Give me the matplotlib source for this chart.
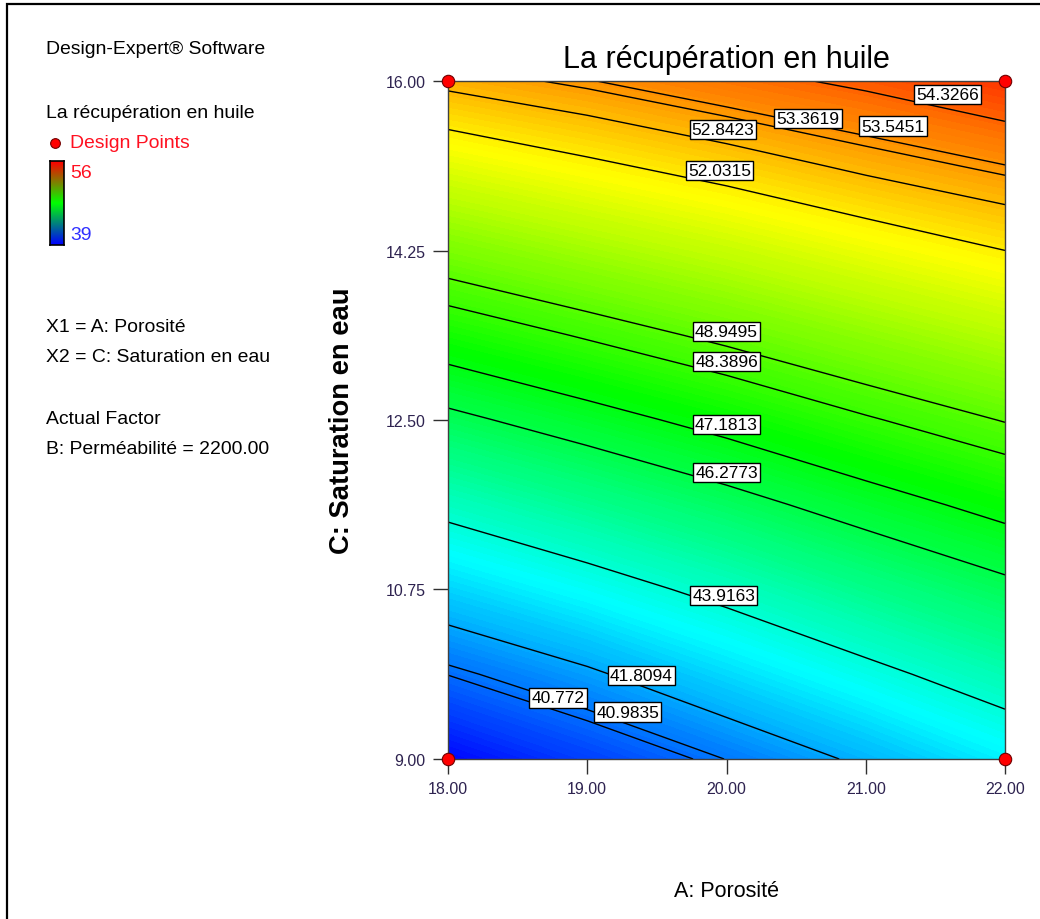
import numpy as np
import matplotlib
matplotlib.use('Agg')
import matplotlib.pyplot as plt
from matplotlib import font_manager
from matplotlib.colors import LinearSegmentedColormap
from matplotlib.patches import Rectangle

# Factor levels (A: porosite, C: saturation en eau)
POROSITE = [18.0, 19.0, 20.0, 21.0, 22.0]
SATURATION = [9.0, 9.875, 10.75, 11.625, 12.5, 13.375, 14.25, 15.125, 16.0]

# Recuperation en huile, one row per saturation level (bottom -> top)
RECUP = [
    [39.10, 40.05, 41.00, 42.00, 43.04],
    [40.79, 41.65, 42.65, 43.61, 44.53],
    [42.54, 43.38, 44.26, 45.18, 46.02],
    [44.27, 45.09, 45.90, 46.74, 47.51],
    [46.03, 46.79, 47.53, 48.30, 48.99],
    [47.78, 48.48, 49.16, 49.85, 50.51],
    [49.52, 50.17, 50.78, 51.43, 52.03],
    [51.27, 51.86, 52.42, 53.02, 53.53],
    [53.05, 53.51, 54.04, 54.50, 55.05],
]

CONTOUR_LEVELS = [40.772, 40.9835, 41.8094, 43.9163, 46.2773, 47.1813,
                  48.3896, 48.9495, 52.0315, 52.8423, 53.3619, 53.5451, 54.3266]

# design points (corners of the factorial square)
DESIGN_A = [18.0, 18.0, 22.0, 22.0]
DESIGN_C = [9.0, 16.0, 9.0, 16.0]

X_TICKS = [18.0, 19.0, 20.0, 21.0, 22.0]
Y_TICKS = [9.0, 10.75, 12.5, 14.25, 16.0]

COLOR_MIN, COLOR_MAX = 39, 56

# where the contour labels sit (A, C)
LABEL_POS = {
    54.3266: (21.59, 15.86),
    53.3619: (20.585, 15.61),
    53.5451: (21.196, 15.535),
    52.8423: (19.975, 15.50),
    52.0315: (19.95, 15.08),
    48.9495: (20.0, 13.41),
    48.3896: (20.0, 13.10),
    47.1813: (20.0, 12.45),
    46.2773: (20.0, 11.96),
    43.9163: (19.98, 10.69),
    41.8094: (19.39, 9.86),
    40.772: (18.79, 9.63),
    40.9835: (19.29, 9.485),
}

# fonts: Design-Expert uses a narrow Arial for most texts
available = {f.name for f in font_manager.fontManager.ttflist}
if 'Liberation Sans Narrow' in available:
    NARROW, nf = 'Liberation Sans Narrow', 1.0
else:
    NARROW, nf = 'Liberation Sans', 0.82
REGULAR = 'Liberation Sans'
plt.rcParams['font.family'] = [REGULAR, 'DejaVu Sans']

W, H = 1040, 920
fig = plt.figure(figsize=(W / 100, H / 100), dpi=100)


def fx(px):
    return px / W


def fy(py):
    return 1 - py / H


# outer frame (right and bottom are cut off in the screenshot)
fig.patches.append(Rectangle((fx(7), -0.1), 1.2, fy(5) + 0.1, transform=fig.transFigure,
                             fill=False, ec='black', lw=1.6))

ax = fig.add_axes([fx(448), fy(760), fx(1005) - fx(448), (760 - 82) / H])

cmap = LinearSegmentedColormap.from_list(
    'de', ['#0000ff', '#00ffff', '#00ff00', '#ffff00', '#ff0000'])

A, C = np.meshgrid(POROSITE, SATURATION)
Z = np.array(RECUP)

ax.contourf(A, C, Z, levels=np.linspace(COLOR_MIN, COLOR_MAX, 137), cmap=cmap,
            vmin=COLOR_MIN, vmax=COLOR_MAX)
ax.contour(A, C, Z, levels=CONTOUR_LEVELS, colors='black', linewidths=1.0)

for lev in CONTOUR_LEVELS:
    a, c = LABEL_POS[lev]
    ax.text(a, c, f'{lev:g}', ha='center', va='center', fontsize=12.5,
            family=NARROW, color='black', zorder=5,
            bbox=dict(boxstyle='square,pad=0.12', fc='white', ec='black', lw=1.0))

ax.scatter(DESIGN_A, DESIGN_C, s=80, c='#ff0000', edgecolors='#700000',
           linewidths=0.8, zorder=6, clip_on=False)

ax.set_xlim(POROSITE[0], POROSITE[-1])
ax.set_ylim(SATURATION[0], SATURATION[-1])
ax.set_xticks(X_TICKS)
ax.set_xticklabels([f'{v:.2f}' for v in X_TICKS])
ax.set_yticks(Y_TICKS)
ax.set_yticklabels([f'{v:.2f}' for v in Y_TICKS])
ax.tick_params(direction='out', length=11, width=1.0, color='#303030',
               labelcolor='#2e2350', pad=5)
for lab in ax.get_xticklabels() + ax.get_yticklabels():
    lab.set_fontfamily(NARROW)
    lab.set_fontsize(11.5)
for sp in ax.spines.values():
    sp.set_color('#404040')
    sp.set_linewidth(1.0)

ax.set_title('La récupération en huile', fontsize=22, color='black', pad=10)
ax.set_xlabel('A: Porosité', fontsize=15.5, labelpad=60)
ax.set_ylabel('C: Saturation en eau', fontsize=19.7, fontweight='bold', labelpad=22)

# left info panel
txt = dict(fontsize=17 * nf, family=NARROW, va='center', ha='left')
fig.text(fx(46), fy(50), 'Design-Expert® Software', color='black', **txt)
fig.text(fx(46), fy(113), 'La récupération en huile', color='black', **txt)
fig.text(fx(70), fy(143), 'Design Points', color='#ff1020', **txt)
fig.lines.append(plt.Line2D([fx(55)], [fy(144)], transform=fig.transFigure, marker='o',
                            ms=7, mfc='#ff0000', mec='#700000', mew=0.8, ls='none'))
fig.text(fx(70), fy(173), '56', color='#ff1020', **txt)
fig.text(fx(70), fy(235), '39', color='#3030ff', **txt)
fig.text(fx(46), fy(328), 'X1 = A: Porosité', color='black', **txt)
fig.text(fx(46), fy(358), 'X2 = C: Saturation en eau', color='black', **txt)
fig.text(fx(46), fy(420), 'Actual Factor', color='black', **txt)
fig.text(fx(46), fy(450), 'B: Perméabilité = 2200.00', color='black', **txt)

# small legend colour bar (red -> green -> blue)
cax = fig.add_axes([fx(50), fy(246), fx(64) - fx(50), (246 - 162) / H])
bar_cmap = LinearSegmentedColormap.from_list('rgb', ['#0000ff', '#00ff00', '#ff0000'])
cax.imshow(np.linspace(0, 1, 100).reshape(-1, 1), aspect='auto', cmap=bar_cmap,
           origin='lower', extent=[0, 1, 0, 1])
cax.set_xticks([])
cax.set_yticks([])
for sp in cax.spines.values():
    sp.set_color('black')
    sp.set_linewidth(1.2)

fig.savefig('out.png', dpi=100)
